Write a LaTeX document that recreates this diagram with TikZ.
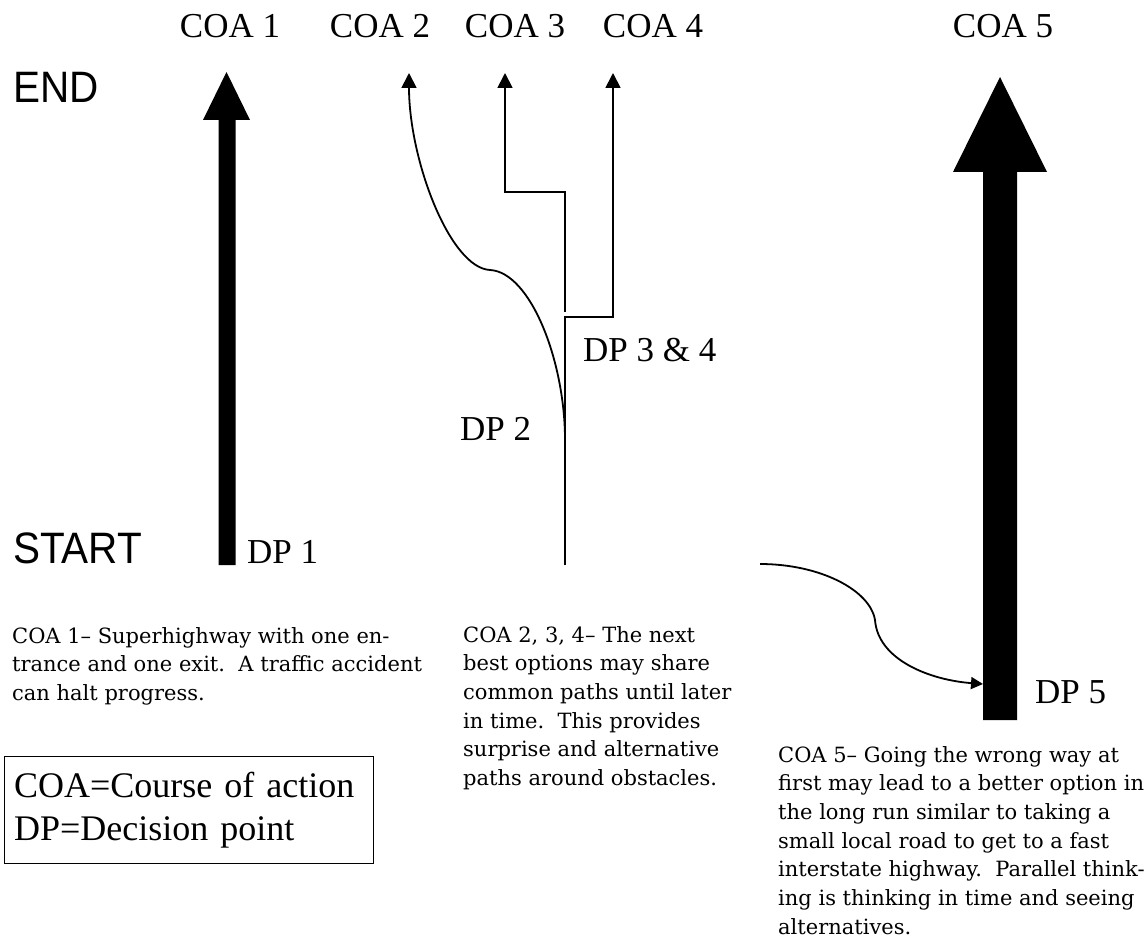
\documentclass[tikz,border=0pt]{standalone}
\usepackage{graphicx}
\usepackage{fontspec}
\setmainfont{Liberation Serif}
\newfontfamily\sansf{Liberation Sans}
\newfontfamily\parf{DejaVu Serif}
\usetikzlibrary{arrows.meta}
\begin{document}
\begin{tikzpicture}[x=1pt,y=-1pt,
  lbl/.style={font=\fontsize{35}{40}\selectfont, inner sep=0pt},
  big/.style={font=\sansf\fontsize{44}{50}\selectfont, inner sep=0pt, anchor=base west},
  para/.style={font=\parf\fontsize{21}{28.7}\selectfont, align=left, anchor=north west, inner sep=0pt},
  road/.style={line width=1.8pt, draw=black},
  tipa/.style={-{Triangle[length=15pt,width=15pt]}},
  tipb/.style={-{Triangle[length=12pt,width=12pt]}}]
\path[use as bounding box] (0,0) rectangle (1148,949);

% top labels
\node[lbl, anchor=base] (coa1) at (230,38) {COA 1};
\node[lbl, anchor=base] (coa2) at (380,38) {COA 2};
\node[lbl, anchor=base] (coa3) at (515,38) {COA 3};
\node[lbl, anchor=base] (coa4) at (653,38) {COA 4};
\node[lbl, anchor=base] (coa5) at (1003,38) {COA 5};

\node[big] (end) at (13,103) {\scalebox{0.92}[1]{END}};
\node[big] (start) at (13,563) {\scalebox{0.92}[1]{START}};

% COA 1 highway
\fill (218.5,565) -- (218.5,120) -- (203,120) -- (226.5,72) -- (250,120) -- (235.5,120) -- (235.5,565) -- cycle;
% COA 5 highway
\fill (983,720) -- (983,172) -- (953,172) -- (1000,77) -- (1047,172) -- (1017,172) -- (1017,720) -- cycle;

% COA 2,3,4 roads
\coordinate (base) at (565,565);
\coordinate (split34) at (565,317);
\coordinate (merge2) at (565,440);
\coordinate (end2) at (409,73);
\coordinate (end3) at (505,73);
\coordinate (end4) at (613,73);
\draw[road, tipa] (base) -- (split34) -- (613,317) -- (end4);
\draw[road, tipa] (565,312) -- (565,192) -- (505,192) -- (end3);
\draw[road, tipa] (merge2) .. controls (565,360) and (530,272) .. (490,270)
   .. controls (450,268) and (409,160) .. (end2);

% COA 5 side road
\coordinate (s5) at (760,564);
\coordinate (e5) at (983,684);
\draw[road, tipb] (s5) .. controls (820,564) and (870,590) .. (875,620)
   .. controls (878,660) and (930,680) .. (e5);

% DP labels
\node[lbl, anchor=base west] (dp1) at (247,563) {DP 1};
\node[lbl, anchor=base west] (dp2) at (460,440) {DP 2};
\node[lbl, anchor=base west] (dp34) at (583,361) {DP 3 \& 4};
\node[lbl, anchor=base west] (dp5) at (1035,703) {DP 5};

% paragraphs
\node[para] (t1) at (12,627) {COA 1– Superhighway with one en-\\trance and one exit.\ \ A traffic accident\\can halt progress.};
\node[para] (t2) at (463,626) {COA 2, 3, 4– The next\\best options may share\\common paths until later\\in time.\ \ This provides\\surprise and alternative\\paths around obstacles.};
\node[para] (t5) at (778,746) {COA 5– Going the wrong way at\\first may lead to a better option in\\the long run similar to taking a\\small local road to get to a fast\\interstate highway.\ \ Parallel think-\\ing is thinking in time and seeing\\alternatives.};

% legend
\node[draw, line width=1.3pt, anchor=north west, minimum width=369pt, minimum height=107pt,
  text width=350pt, inner xsep=9.5pt, inner ysep=0pt, align=left,
  font=\fontsize{36}{43}\selectfont] (legend) at (4,756) {COA=Course of action\\DP=Decision point};
\end{tikzpicture}
\end{document}
